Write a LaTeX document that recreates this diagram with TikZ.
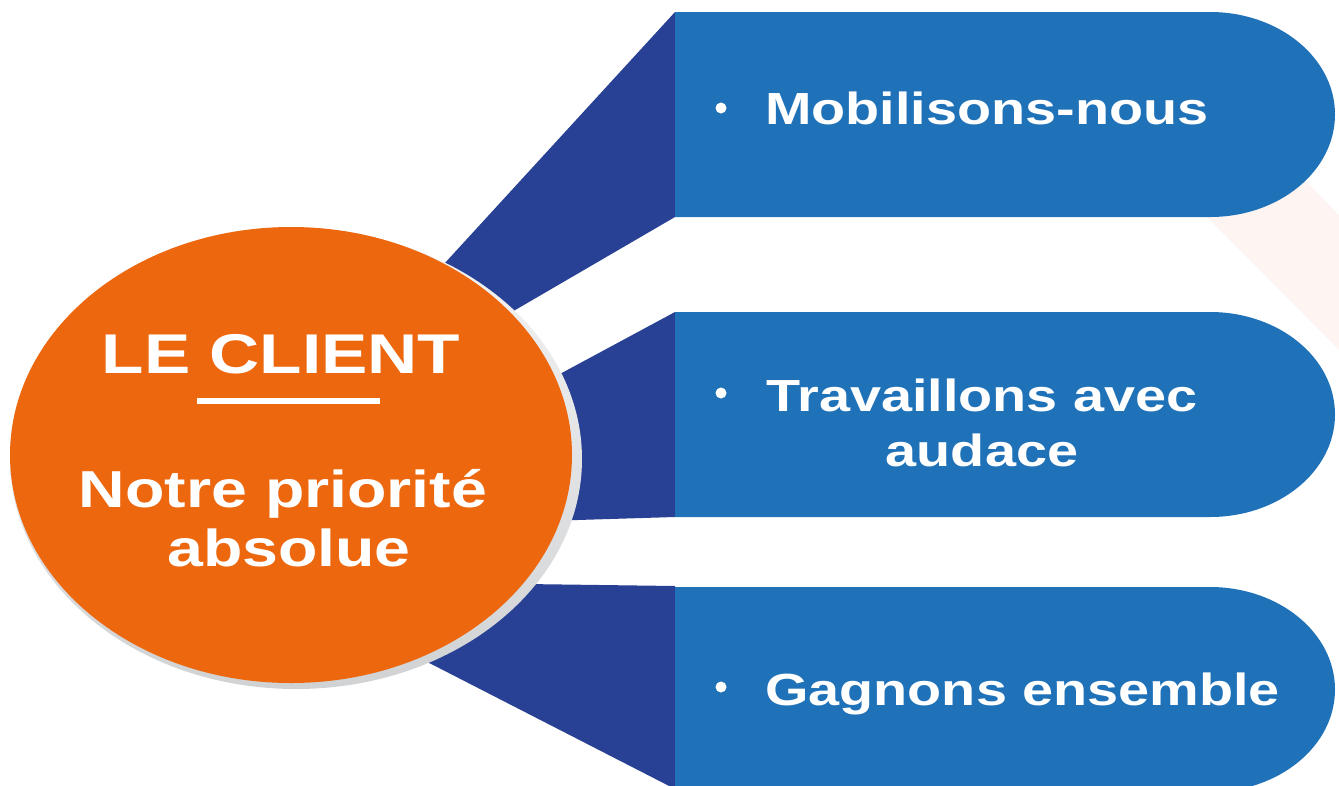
\documentclass[tikz,border=0pt]{standalone}
\usepackage{fontspec}
\setmainfont{Liberation Sans}
\newfontfamily\anchafont[FakeStretch=1.24]{Liberation Sans}
\usepackage{tikz}

\definecolor{naranja}{HTML}{EC670E}
\definecolor{azul}{HTML}{1F71B8}
\definecolor{azuloscuro}{HTML}{284194}
\definecolor{grisclaro}{HTML}{F4F4F4}
\definecolor{grisoscuro}{HTML}{D0D2D4}
\definecolor{rosado}{HTML}{FEF4F1}

\tikzset{
  texto/.style={text=white, inner sep=0pt, anchor=base,
    font=\anchafont\bfseries\fontsize{45}{55}\selectfont},
  titulo/.style={texto, font=\anchafont\bfseries\fontsize{56}{60}\selectfont},
  lema/.style={texto, font=\anchafont\bfseries\fontsize{52}{59}\selectfont},
  vineta/.style={circle, fill=white, inner sep=0pt, minimum size=11pt}
}

\begin{document}
\begin{tikzpicture}[x=1pt,y=-1pt]
  \useasboundingbox (0,0) rectangle (1339,785);
  \clip (0,0) rectangle (1339,785);

  % Banda de fondo
  \fill[rosado] (1190,200) -- (1290,165) -- (1339,215) -- (1339,350) -- cycle;

  % Trapecios
  \fill[azuloscuro] (675,12) -- (675,217) -- (450,348) -- (400,312) -- cycle;
  \fill[azuloscuro] (675,312) -- (675,517) -- (480,523) -- (480,417) -- cycle;
  \fill[azuloscuro] (675,586) -- (675,789) -- (400,648) -- (450,583) -- cycle;

  % Bandas azules
  \foreach \y in {12,312,587}{
    \fill[azul] (675,\y) -- (1210,\y)
      arc[start angle=-90, end angle=90, x radius=125, y radius=102.5]
      -- (675,\y+205) -- cycle;
  }

  % Elipse central
  \shade[top color=grisclaro, bottom color=grisoscuro] (296,459) ellipse [x radius=286, y radius=230];
  \fill[naranja] (291,455) ellipse [x radius=281, y radius=228];

  % Textos de la elipse
  \node[titulo] (cliente) at (281,373) {LE CLIENT};
  \draw[white, line width=6.5pt] (197,401) -- (380,401);
  \node[lema] (prioridad) at (283,507) {Notre priorité};
  \node[lema] (absoluta) at (289,566) {absolue};

  % Vinetas y textos
  \foreach \y/\n in {108/1,393/2,687/3}{
    \node[vineta] (vineta\n) at (721,\y) {};
  }
  \node[texto, anchor=base west] (movil) at (765,124) {Mobilisons-nous};
  \node[texto] (trabajo) at (982,411) {Travaillons avec};
  \node[texto] (audacia) at (982,466) {audace};
  \node[texto, anchor=base west] (juntos) at (765,705) {Gagnons ensemble};
\end{tikzpicture}
\end{document}
